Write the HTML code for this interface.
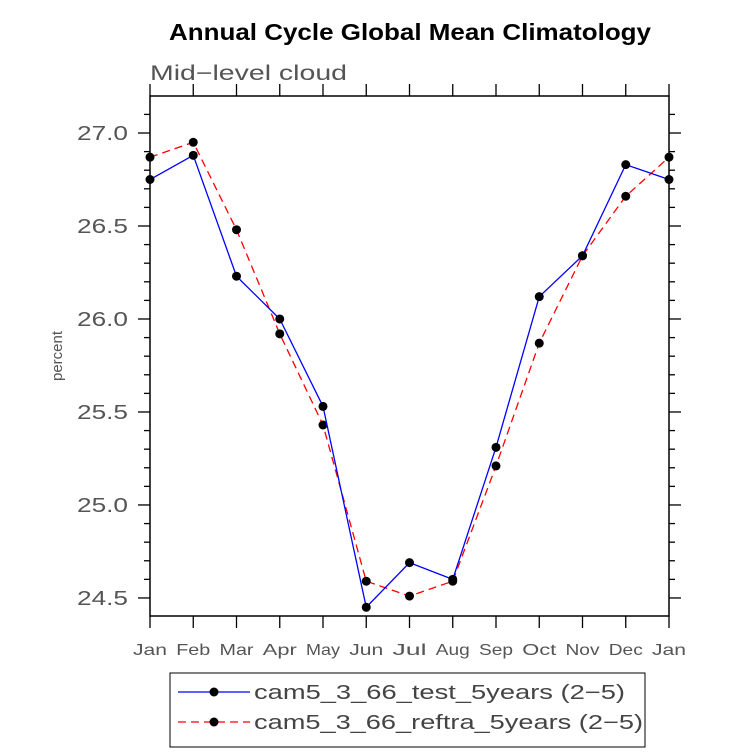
<!DOCTYPE html>
<html><head><meta charset="utf-8"><style>
body{margin:0;background:#fff;}
svg text{font-family:"Liberation Sans",sans-serif;}
</style></head><body>
<svg id="chart" width="733" height="751" xmlns="http://www.w3.org/2000/svg">
<text x="169" y="40" textLength="482" lengthAdjust="spacingAndGlyphs" font-size="23" font-weight="bold">Annual Cycle Global Mean Climatology</text>
<text x="150" y="80" textLength="197" lengthAdjust="spacingAndGlyphs" font-size="21" fill="#555">Mid−level cloud</text>
<text transform="translate(62,356) rotate(-90)" text-anchor="middle" font-size="15" fill="#555">percent</text>
<g id="axes"></g>
<g id="series"></g>
<rect x="170" y="673" width="475" height="74" fill="none" stroke="#000" stroke-width="1"/>
<line x1="178" y1="692" x2="250" y2="692" stroke="#0000ff" stroke-width="1.3"/>
<circle cx="214" cy="692" r="4.5" fill="#000"/>
<text x="254" y="699" textLength="371" lengthAdjust="spacingAndGlyphs" font-size="20" fill="#444">cam5_3_66_test_5years (2−5)</text>
<line x1="178" y1="722" x2="250" y2="722" stroke="#ff0000" stroke-width="1.3" stroke-dasharray="8,5"/>
<circle cx="214" cy="722" r="4.5" fill="#000"/>
<text x="254" y="729" textLength="389" lengthAdjust="spacingAndGlyphs" font-size="20" fill="#444">cam5_3_66_reftra_5years (2−5)</text>
</svg>
<script>
const months=["Jan","Feb","Mar","Apr","May","Jun","Jul","Aug","Sep","Oct","Nov","Dec","Jan"];
const testVals=[26.75,26.88,26.23,26.0,25.53,24.45,24.69,24.60,25.31,26.12,26.34,26.83,26.75];
const refVals=[26.87,26.95,26.48,25.92,25.43,24.59,24.51,24.59,25.21,25.87,26.34,26.66,26.87];
const yTicks=[24.5,25.0,25.5,26.0,26.5,27.0];
const yTickLabels=["24.5","25.0","25.5","26.0","26.5","27.0"];
const X0=150,X1=669,Y0=616,Y1=96,YMIN=24.403,YMAX=27.199;
const xs=i=>X0+(X1-X0)*i/(months.length-1);
const ys=v=>Y0-(v-YMIN)/(YMAX-YMIN)*(Y0-Y1);
const NS="http://www.w3.org/2000/svg";
function mk(t,a,p){const e=document.createElementNS(NS,t);for(const k in a)e.setAttribute(k,a[k]);p.appendChild(e);return e;}
const ax=document.getElementById('axes');
const fr=mk('rect',{x:X0,y:Y1,width:X1-X0,height:Y0-Y1,fill:'none',stroke:'#000','stroke-width':1.5},ax);


for(let v=24.5;v<=27.15;v+=0.1){
  const y=ys(v),maj=Math.abs(v*2-Math.round(v*2))<0.01,l=maj?12:6;
  mk('line',{x1:X0-l,y1:y,x2:X0,y2:y,stroke:'#000','stroke-width':1.3},ax);
  mk('line',{x1:X1,y1:y,x2:X1+l,y2:y,stroke:'#000','stroke-width':1.3},ax);
}
yTicks.forEach((v,i)=>{
  const t=mk('text',{x:X0-22,y:ys(v)+7,'text-anchor':'end','font-size':20,fill:'#555',textLength:51,lengthAdjust:'spacingAndGlyphs'},ax);
  t.textContent=yTickLabels[i];
  
  
});
months.forEach((m,i)=>{
  const x=xs(i);
  mk('line',{x1:x,y1:Y0,x2:x,y2:Y0+12,stroke:'#000','stroke-width':1.3},ax);
  mk('line',{x1:x,y1:Y1-12,x2:x,y2:Y1,stroke:'#000','stroke-width':1.3},ax);
  const t=mk('text',{x:x,y:655,'text-anchor':'middle','font-size':16,fill:'#555',textLength:34,lengthAdjust:'spacingAndGlyphs'},ax);
  t.textContent=m;
  
  
});
const sg=document.getElementById('series');
function draw(vals,color,dash,name){
  const pl=mk('polyline',{points:vals.map((v,i)=>xs(i)+','+ys(v)).join(' '),fill:'none',stroke:color,'stroke-width':1.3,'stroke-dasharray':dash},sg);
  
  
  vals.forEach((v,i)=>{
    const c=mk('circle',{cx:xs(i),cy:ys(v),r:4.5,fill:'#000'},sg);
    
    
  });
}
draw(refVals,'#ff0000','8,5','ref');
draw(testVals,'#0000ff','none','test');
</script>
</body></html>
